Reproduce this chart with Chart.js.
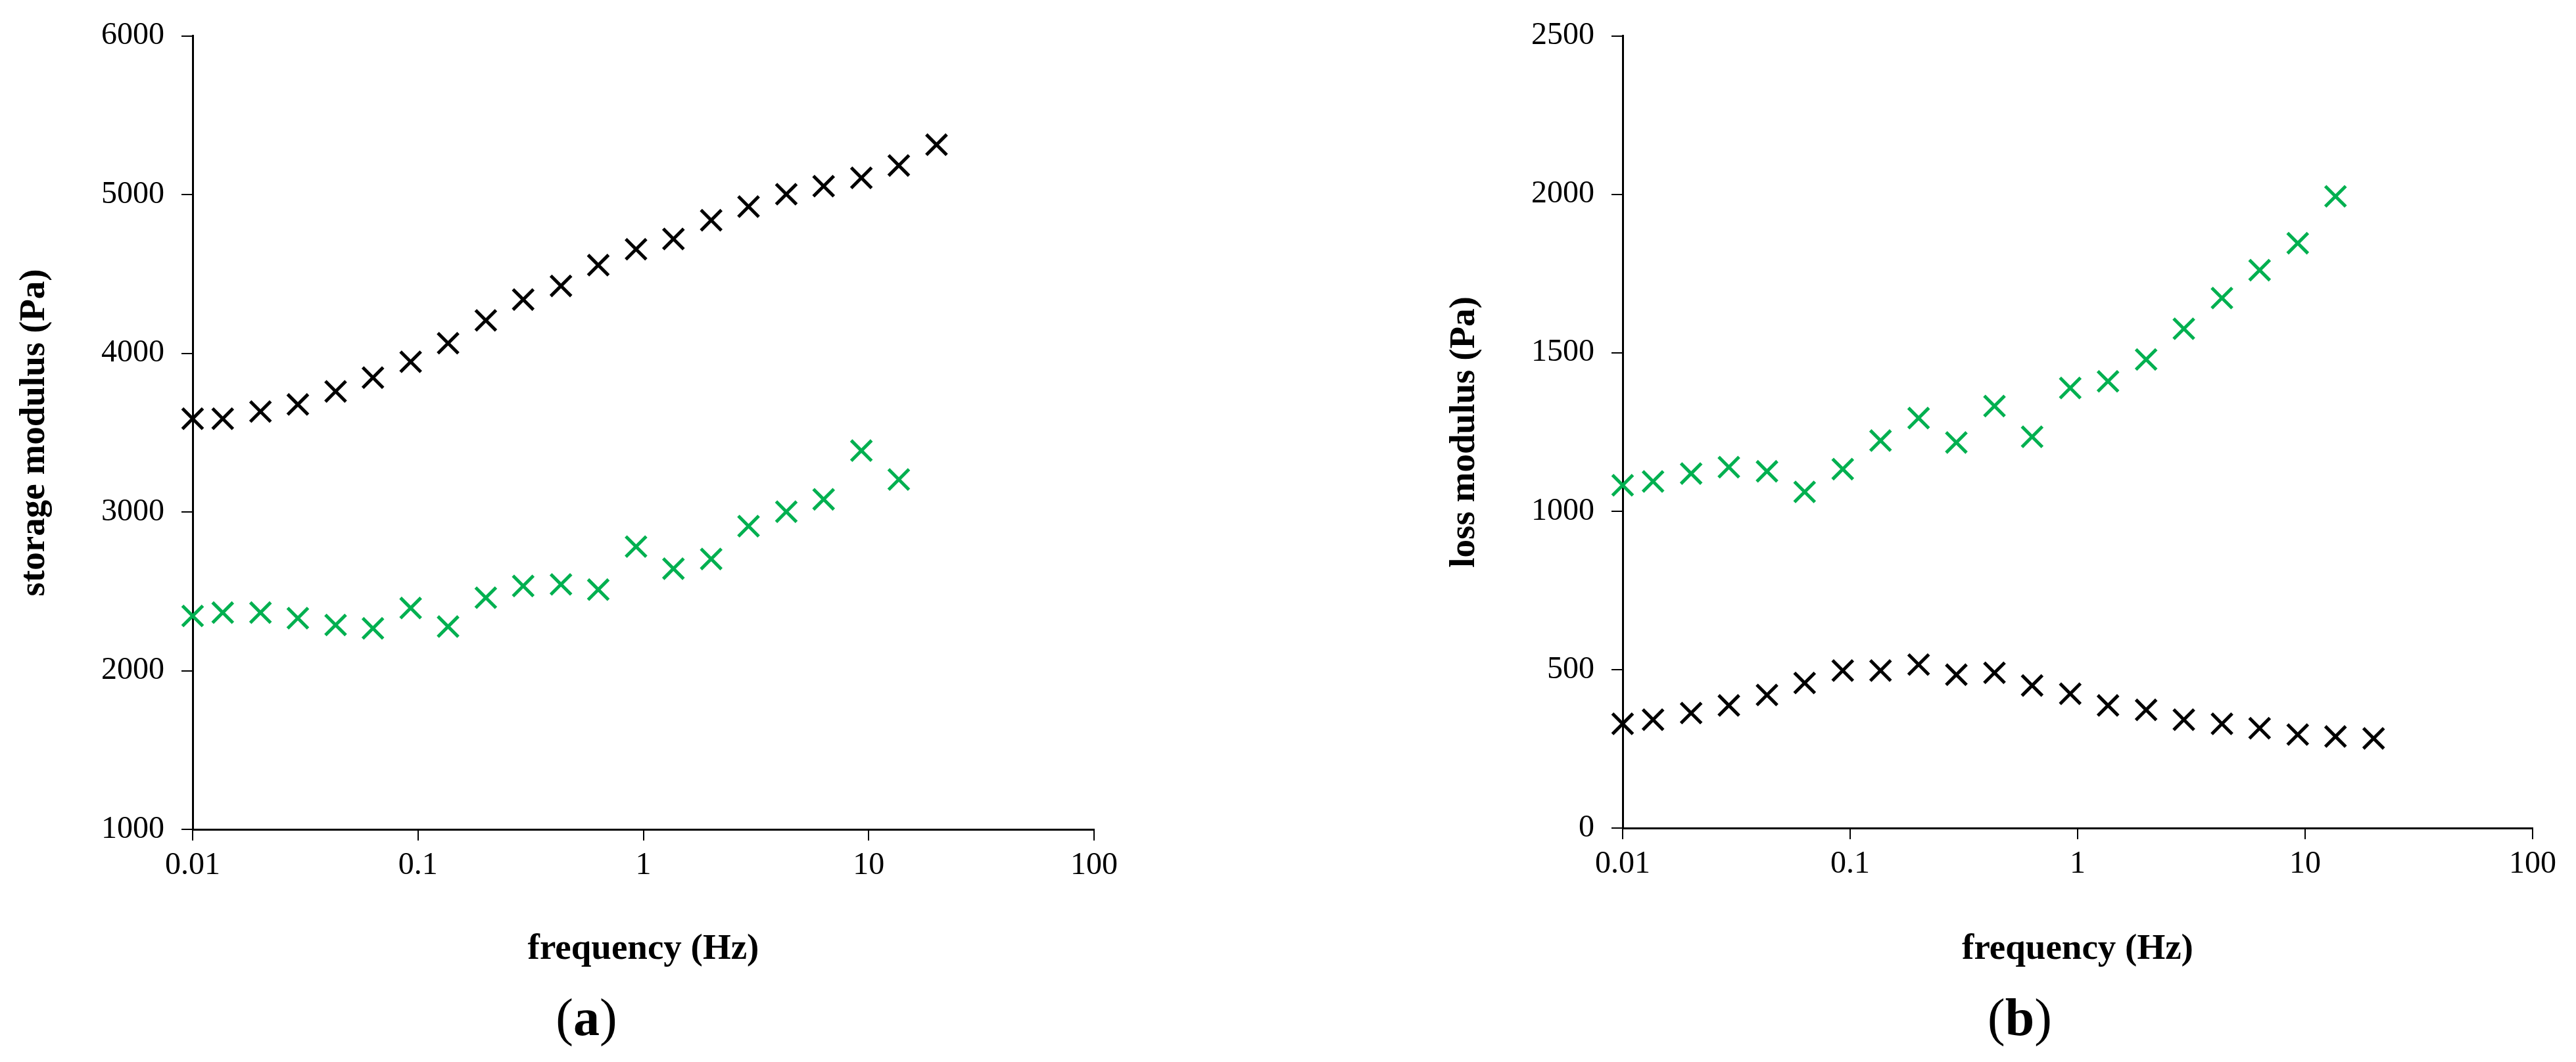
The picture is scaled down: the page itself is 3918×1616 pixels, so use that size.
<!DOCTYPE html>
<html>
<head>
<meta charset="utf-8">
<script src="https://cdn.jsdelivr.net/npm/chart.js@4.4.0/dist/chart.umd.min.js"></script>
<style>
  body { margin: 0; background: #fff; width: 3918px; height: 1616px; position: relative; overflow: hidden; }
  .panel { position: absolute; top: 0; }
  .panel canvas { display: block; }
  .tag { position: absolute; font-family: 'Liberation Serif', 'Times New Roman', serif; font-size: 80px; line-height: 1; transform: translate(-50%, -50%); color: #000; white-space: nowrap; }
</style>
</head>
<body>
<div class="panel" style="left:0px"><canvas id="chartA" width="1800" height="1616"></canvas></div>
<div class="panel" style="left:2175px"><canvas id="chartB" width="1743" height="1616"></canvas></div>
<div class="tag" style="left:892px; top:1548px">(<b>a</b>)</div>
<div class="tag" style="left:3072px; top:1548px">(<b>b</b>)</div>
<script>
// frequencies (Hz), 6 points per decade from 0.01 to 20
const frequency = [0.01, 0.0136, 0.02, 0.0293, 0.0431, 0.0631, 0.0928, 0.136, 0.2, 0.293,
    0.431, 0.631, 0.928, 1.36, 2, 2.93, 4.31, 6.31, 9.28, 13.6, 20];

// storage modulus (Pa)
const storageBlack = [3588, 3588, 3633, 3678, 3760, 3847, 3947, 4064, 4208, 4339,
    4425, 4556, 4656, 4721, 4839, 4925, 5003, 5054, 5106, 5184, 5315];
const storageGreen = [2345, 2366, 2366, 2331, 2288, 2267, 2395, 2278, 2460, 2534,
    2544, 2511, 2782, 2643, 2704, 2911, 3002, 3080, 3387, 3205];

// loss modulus (Pa)
const lossBlack = [329, 342, 363, 387, 420, 458, 497, 497, 516, 484,
    490, 450, 424, 387, 373, 342, 329, 315, 295, 289, 283];
const lossGreen = [1082, 1094, 1119, 1139, 1126, 1061, 1133, 1223, 1294, 1217,
    1332, 1235, 1389, 1410, 1479, 1576, 1673, 1761, 1846, 1994];

const xTicks = [0.01, 0.1, 1, 10, 100];
const storageTicks = [1000, 2000, 3000, 4000, 5000, 6000];
const lossTicks = [0, 500, 1000, 1500, 2000, 2500];

const FONT = "'Liberation Serif', 'Times New Roman', serif";
const GREEN = "#00B050";

function puntos(valores) {
    return valores.map((v, i) => ({ x: frequency[i], y: v }));
}

function serie(valores, color) {
    return {
        data: puntos(valores),
        showLine: false,
        pointStyle: 'crossRot',
        pointRadius: 22,
        pointHoverRadius: 22,
        pointBorderWidth: 5,
        borderColor: color,
        backgroundColor: color,
        clip: false
    };
}

function crearGrafico(id, negro, verde, yTicks, yTitulo, caja) {
    const ctx = document.getElementById(id).getContext('2d');
    const lineas = { display: true, drawOnChartArea: false, drawTicks: true, tickLength: 17, color: '#000', lineWidth: 2 };
    const borde = { display: true, color: '#000', width: 3 };
    new Chart(ctx, {
        type: 'scatter',
        data: {
            datasets: [serie(negro, '#000'), serie(verde, GREEN)]
        },
        options: {
            responsive: false,
            animation: false,
            layout: { padding: { left: 0, top: caja.top, right: caja.right, bottom: 0 } },
            plugins: { legend: { display: false }, tooltip: { enabled: false } },
            scales: {
                x: {
                    type: 'logarithmic',
                    min: xTicks[0],
                    max: xTicks[xTicks.length - 1],
                    afterBuildTicks: (s) => { s.ticks = xTicks.map((v) => ({ value: v })); },
                    afterFit: (s) => { s.height = caja.xHeight; },
                    ticks: {
                        callback: (v) => String(v),
                        autoSkip: false,
                        maxRotation: 0,
                        padding: 10,
                        color: '#000',
                        font: { family: FONT, size: 48 }
                    },
                    grid: lineas,
                    border: borde,
                    title: {
                        display: true,
                        text: 'frequency (Hz)',
                        color: '#000',
                        font: { family: FONT, size: 55, weight: 'bold' },
                        padding: { top: 0, bottom: 138 }
                    }
                },
                y: {
                    type: 'linear',
                    min: yTicks[0],
                    max: yTicks[yTicks.length - 1],
                    afterBuildTicks: (s) => { s.ticks = yTicks.map((v) => ({ value: v })); },
                    afterFit: (s) => { s.width = 293; },
                    ticks: {
                        callback: (v) => String(v),
                        padding: 26,
                        color: '#000',
                        font: { family: FONT, size: 48 }
                    },
                    grid: lineas,
                    border: borde,
                    title: {
                        display: true,
                        text: yTitulo,
                        color: '#000',
                        font: { family: FONT, size: 55, weight: 'bold' },
                        padding: { top: 20, bottom: 0 }
                    }
                }
            }
        }
    });
}

crearGrafico('chartA', storageBlack, storageGreen, storageTicks, 'storage modulus (Pa)',
    { top: 43, right: 136, xHeight: 354 });
crearGrafico('chartB', lossBlack, lossGreen, lossTicks, 'loss modulus (Pa)',
    { top: 40, right: 66, xHeight: 356 });
</script>
</body>
</html>
